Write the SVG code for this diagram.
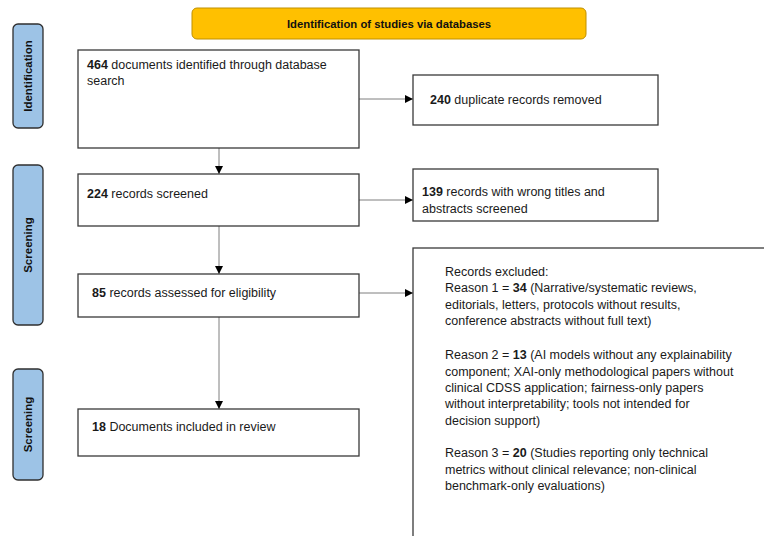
<svg xmlns="http://www.w3.org/2000/svg" width="764" height="536" viewBox="0 0 764 536">
<defs>
<marker id="ah" viewBox="0 0 10 10" refX="10" refY="5" markerWidth="8" markerHeight="8" markerUnits="userSpaceOnUse" orient="auto">
<path d="M0,0 L10,5 L0,10 Z" fill="#000"/>
</marker>
<style>
.box{fill:#fff;stroke:#3a3a3a;stroke-width:1.3}
.side{fill:#9DC3E6;stroke:#2f2f2f;stroke-width:1.3}
.hdr{fill:#FFC000;stroke:#BF9000;stroke-width:1}
.t{font-family:"Liberation Sans",Arial,sans-serif;font-size:12.5px;fill:#1a1a1a}
.b{font-weight:bold}
.st{font-family:"Liberation Sans",Arial,sans-serif;font-size:11.5px;font-weight:bold;fill:#111;text-anchor:middle}
.ht{font-family:"Liberation Sans",Arial,sans-serif;font-size:11.3px;font-weight:bold;fill:#111;text-anchor:middle}
.c{stroke:#7f7f7f;stroke-width:1;fill:none;marker-end:url(#ah)}
</style>
</defs>
<rect width="764" height="536" fill="#fff"/>

<g id="header">
<rect class="hdr" x="192" y="8" width="394" height="31" rx="5"/>
<text class="ht" x="389" y="28">Identification of studies via databases</text>
</g>

<g id="side-identification">
<rect class="side" x="13" y="24" width="30" height="104" rx="5"/>
<text class="st" transform="translate(32,76) rotate(-90)">Identification</text>
</g>
<g id="side-screening-1">
<rect class="side" x="13" y="165" width="30" height="160" rx="5"/>
<text class="st" transform="translate(32,245) rotate(-90)">Screening</text>
</g>
<g id="side-screening-2">
<rect class="side" x="13" y="369" width="30" height="111" rx="5"/>
<text class="st" transform="translate(32,424.5) rotate(-90)">Screening</text>
</g>

<g id="connectors">
<line class="c" x1="359" y1="99" x2="413" y2="99"/>
<line class="c" x1="219" y1="146" x2="219" y2="174"/>
<line class="c" x1="359" y1="200" x2="413" y2="200"/>
<line class="c" x1="219" y1="226" x2="219" y2="274"/>
<line class="c" x1="359" y1="293" x2="413" y2="293"/>
<line class="c" x1="219" y1="317" x2="219" y2="409"/>
</g>

<g id="n464">
<rect class="box" x="78" y="50" width="281" height="98"/>
<text class="t" x="87" y="69"><tspan class="b">464</tspan> documents identified through database</text>
<text class="t" x="87" y="85">search</text>
</g>

<g id="n240">
<rect class="box" x="413" y="75" width="245" height="50"/>
<text class="t" x="430" y="104"><tspan class="b">240</tspan> duplicate records removed</text>
</g>

<g id="n224">
<rect class="box" x="78" y="174" width="281" height="52"/>
<text class="t" x="87" y="198"><tspan class="b">224</tspan> records screened</text>
</g>

<g id="n139">
<rect class="box" x="413" y="169" width="245" height="52"/>
<text class="t" x="422" y="196"><tspan class="b">139</tspan> records with wrong titles and</text>
<text class="t" x="422" y="213">abstracts screened</text>
</g>

<g id="n85">
<rect class="box" x="78" y="274" width="281" height="43"/>
<text class="t" x="92" y="297"><tspan class="b">85</tspan> records assessed for eligibility</text>
</g>

<g id="excluded">
<rect class="box" x="413" y="248" width="360" height="300"/>
<text class="t" x="445" y="276">Records excluded:</text>
<text class="t" x="445" y="292">Reason 1 = <tspan class="b">34</tspan> (Narrative/systematic reviews,</text>
<text class="t" x="445" y="309">editorials, letters, protocols without results,</text>
<text class="t" x="445" y="325">conference abstracts without full text)</text>
<text class="t" x="445" y="359">Reason 2 = <tspan class="b">13</tspan> (AI models without any explainability</text>
<text class="t" x="445" y="376">component; XAI-only methodological papers without</text>
<text class="t" x="445" y="392">clinical CDSS application; fairness-only papers</text>
<text class="t" x="445" y="408">without interpretability; tools not intended for</text>
<text class="t" x="445" y="425">decision support)</text>
<text class="t" x="445" y="457">Reason 3 = <tspan class="b">20</tspan> (Studies reporting only technical</text>
<text class="t" x="445" y="474">metrics without clinical relevance; non-clinical</text>
<text class="t" x="445" y="490">benchmark-only evaluations)</text>
</g>

<g id="n18">
<rect class="box" x="78" y="409" width="281" height="47"/>
<text class="t" x="92" y="431"><tspan class="b">18</tspan> Documents included in review</text>
</g>
</svg>
